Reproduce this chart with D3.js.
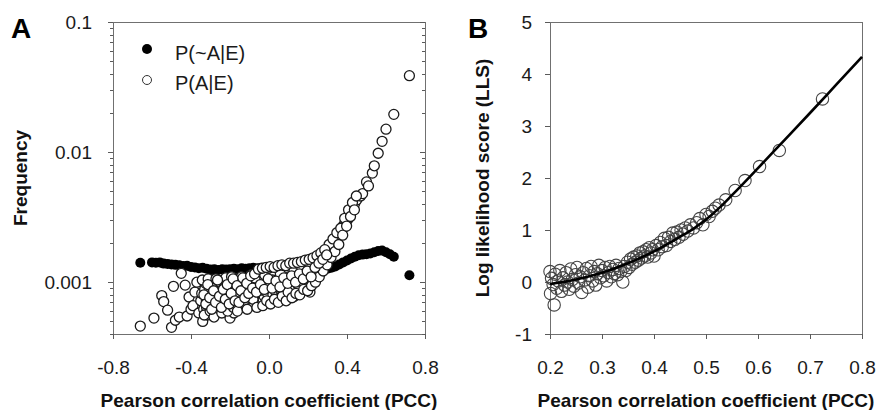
<!DOCTYPE html>
<html>
<head>
<meta charset="utf-8">
<script src="https://cdn.jsdelivr.net/npm/d3@7"></script>
<style>
  body { margin: 0; background: #fff; }
  svg { font-family: "Liberation Sans", Arial, sans-serif; }
  .axis path, .axis line { stroke: #5a5a5a; shape-rendering: crispEdges; }
  .axis text { fill: #1a1a1a; font-size: 19px; }
  .frame { fill: none; stroke: #707070; shape-rendering: crispEdges; }
  .title { font-size: 19px; font-weight: bold; fill: #111; }
  .panel { font-size: 28px; font-weight: bold; fill: #000; }
</style>
</head>
<body>
<div id="chart"></div>
<script>
// ---- Panel A: frequency vs PCC ----
const pccNotAE = [-0.66, -0.60, -0.58, -0.56, -0.54, -0.52, -0.50, -0.48, -0.46, -0.44, -0.42, -0.40,
  -0.38, -0.36, -0.34, -0.32, -0.30, -0.28, -0.26, -0.24, -0.22, -0.20, -0.18, -0.16, -0.14, -0.12,
  -0.10, -0.08, -0.06, -0.04, -0.02, 0.00, 0.02, 0.04, 0.06, 0.08, 0.10, 0.12, 0.14, 0.16, 0.18,
  0.20, 0.22, 0.24, 0.26, 0.28, 0.30, 0.32, 0.34, 0.36, 0.38, 0.40, 0.42, 0.44, 0.46, 0.48, 0.50,
  0.52, 0.54, 0.56, 0.58, 0.60, 0.62, 0.64, 0.72];
const freqNotAE = [1.41e-3, 1.42e-3, 1.41e-3, 1.42e-3, 1.39e-3, 1.38e-3, 1.37e-3, 1.36e-3, 1.35e-3, 1.33e-3, 1.34e-3, 1.31e-3,
  1.30e-3, 1.28e-3, 1.29e-3, 1.27e-3, 1.25e-3, 1.26e-3, 1.24e-3, 1.26e-3, 1.25e-3, 1.26e-3, 1.27e-3, 1.26e-3, 1.28e-3, 1.27e-3,
  1.28e-3, 1.29e-3, 1.28e-3, 1.29e-3, 1.30e-3, 1.29e-3, 1.28e-3, 1.29e-3, 1.28e-3, 1.27e-3, 1.28e-3, 1.27e-3, 1.26e-3, 1.27e-3, 1.26e-3,
  1.25e-3, 1.26e-3, 1.25e-3, 1.26e-3, 1.25e-3, 1.27e-3, 1.29e-3, 1.32e-3, 1.37e-3, 1.42e-3, 1.47e-3, 1.52e-3, 1.57e-3, 1.61e-3, 1.63e-3, 1.64e-3,
  1.66e-3, 1.70e-3, 1.74e-3, 1.75e-3, 1.70e-3, 1.64e-3, 1.57e-3, 1.13e-3];

const pccAE = [-0.66, -0.59, -0.55, -0.54, -0.52, -0.50, -0.49, -0.48, -0.46, -0.45, -0.43, -0.42, -0.41,
  -0.40, -0.39, -0.38, -0.37, -0.36, -0.35, -0.345, -0.34, -0.335, -0.33, -0.325, -0.32, -0.315, -0.31,
  -0.305, -0.30, -0.295, -0.29, -0.285, -0.28, -0.275, -0.27, -0.265, -0.26, -0.255, -0.25, -0.245,
  -0.24, -0.235, -0.23, -0.225, -0.22, -0.215, -0.21, -0.205, -0.20, -0.195, -0.19, -0.185, -0.18,
  -0.175, -0.17, -0.165, -0.16, -0.155, -0.15, -0.145, -0.14, -0.135, -0.13, -0.125, -0.12, -0.115,
  -0.11, -0.105, -0.10, -0.095, -0.09, -0.085, -0.08, -0.075, -0.07, -0.065, -0.06, -0.055, -0.05,
  -0.045, -0.04, -0.035, -0.03, -0.025, -0.02, -0.015, -0.01, -0.005, 0.00, 0.005, 0.01, 0.015, 0.02,
  0.025, 0.03, 0.035, 0.04, 0.045, 0.05, 0.055, 0.06, 0.065, 0.07, 0.075, 0.08, 0.085, 0.09, 0.095,
  0.10, 0.105, 0.11, 0.115, 0.12, 0.125, 0.13, 0.135, 0.14, 0.145, 0.15, 0.155, 0.16, 0.165, 0.17,
  0.175, 0.18, 0.185, 0.19, 0.195, 0.20, 0.205, 0.21, 0.215, 0.22, 0.225, 0.23, 0.235, 0.24, 0.245,
  0.25, 0.255, 0.26, 0.265, 0.27, 0.275, 0.28, 0.285, 0.29, 0.295, 0.30, 0.305, 0.31, 0.315, 0.32,
  0.325, 0.33, 0.335, 0.34, 0.345, 0.35, 0.355, 0.36, 0.365, 0.37, 0.375, 0.38, 0.385, 0.39, 0.395,
  0.40, 0.405, 0.41, 0.415, 0.42, 0.425, 0.43, 0.435, 0.44, 0.45, 0.47, 0.48, 0.50, 0.51, 0.53,
  0.54, 0.56, 0.58, 0.60, 0.64, 0.72];
const freqAE = [0.46e-3, 0.53e-3, 0.79e-3, 0.71e-3, 0.61e-3, 0.45e-3, 0.93e-3, 0.51e-3, 0.54e-3, 1.17e-3, 0.95e-3, 0.55e-3, 0.77e-3,
  0.62e-3, 0.66e-3, 0.84e-3, 1.00e-3, 0.58e-3, 0.72e-3, 0.82e-3, 0.50e-3, 0.62e-3, 0.88e-3, 0.98e-3, 0.64e-3, 0.56e-3, 0.79e-3,
  0.88e-3, 0.69e-3, 0.74e-3, 1.05e-3, 0.66e-3, 0.60e-3, 0.96e-3, 0.85e-3, 0.63e-3, 0.74e-3, 0.86e-3, 0.66e-3, 0.72e-3,
  0.95e-3, 1.04e-3, 0.78e-3, 0.68e-3, 0.62e-3, 0.80e-3, 1.02e-3, 0.62e-3, 0.53e-3, 0.98e-3, 0.86e-3, 0.74e-3, 0.58e-3,
  0.82e-3, 0.92e-3, 0.66e-3, 0.76e-3, 0.90e-3, 1.08e-3, 0.78e-3, 0.68e-3, 1.00e-3, 0.88e-3, 0.64e-3, 0.80e-3, 0.92e-3,
  0.72e-3, 0.76e-3, 1.05e-3, 0.70e-3, 0.84e-3, 0.98e-3, 0.66e-3, 0.82e-3, 0.96e-3, 0.72e-3, 0.78e-3, 0.90e-3, 1.16e-3,
  0.68e-3, 0.88e-3, 1.06e-3, 0.74e-3, 0.78e-3, 1.00e-3, 0.95e-3, 0.83e-3, 0.70e-3, 0.92e-3, 1.00e-3, 1.12e-3, 0.86e-3, 0.80e-3,
  1.18e-3, 0.97e-3, 0.84e-3, 0.72e-3, 0.94e-3, 1.05e-3, 0.76e-3, 0.88e-3, 0.90e-3, 1.25e-3, 1.02e-3, 0.80e-3, 0.92e-3, 0.98e-3, 1.20e-3,
  1.10e-3, 0.94e-3, 0.86e-3, 1.06e-3, 1.02e-3, 0.90e-3, 0.78e-3, 1.12e-3, 1.18e-3, 1.25e-3, 0.95e-3, 0.88e-3, 1.08e-3, 1.02e-3, 1.40e-3,
  1.15e-3, 0.98e-3, 1.30e-3, 1.15e-3, 1.06e-3, 1.28e-3, 1.20e-3, 0.84e-3, 1.42e-3, 1.22e-3, 1.12e-3, 1.35e-3, 1.26e-3, 1.18e-3, 1.50e-3,
  1.42e-3, 1.35e-3, 1.30e-3, 1.45e-3, 1.52e-3, 1.60e-3, 1.40e-3, 1.50e-3, 1.62e-3, 1.70e-3, 1.55e-3, 1.65e-3, 1.75e-3, 1.82e-3, 1.85e-3,
  1.78e-3, 1.95e-3, 2.00e-3, 2.10e-3, 1.95e-3, 2.20e-3, 2.25e-3, 2.35e-3, 2.30e-3, 2.50e-3, 2.60e-3, 2.70e-3, 2.65e-3, 2.90e-3, 3.00e-3,
  3.10e-3, 3.05e-3, 3.30e-3, 3.45e-3, 3.55e-3, 3.50e-3, 3.80e-3, 3.90e-3, 4.05e-3, 4.30e-3, 4.60e-3, 4.80e-3, 5.90e-3, 5.50e-3, 6.90e-3,
  7.85e-3, 9.80e-3, 12.1e-3, 15.0e-3, 19.5e-3, 38.7e-3];

// more P(A|E) bins in the dense middle of the cloud
const pccAE_more = [-0.342, -0.332, -0.322, -0.312, -0.302, -0.292, -0.282, -0.272, -0.262, -0.252,
  -0.242, -0.232, -0.222, -0.212, -0.202, -0.192, -0.182, -0.172, -0.162, -0.152, -0.142, -0.132,
  -0.122, -0.112, -0.102, -0.092, -0.082, -0.072, -0.062, -0.052, -0.042, -0.032, -0.022, -0.012,
  -0.002, 0.008, 0.018, 0.028, 0.038, 0.048, 0.058, 0.068, 0.078, 0.088, 0.098, 0.108, 0.118, 0.128,
  0.138, 0.148, 0.158, 0.168, 0.178, 0.188, 0.198, 0.208, 0.218, 0.228, 0.238, 0.248, 0.258, 0.268,
  0.278, 0.288, 0.298, 0.308, 0.318, 0.328, 0.338, 0.348, 0.358, 0.368, 0.378, 0.388, 0.398, 0.408,
  0.418, 0.428, 0.438, 0.448,
  -0.334, -0.324, -0.314, -0.304, -0.294, -0.284, -0.274, -0.264, -0.254, -0.244, -0.234, -0.224,
  -0.214, -0.204, -0.194, -0.184, -0.174, -0.164, -0.154, -0.144, -0.134, -0.124, -0.114, -0.104,
  -0.094, -0.084, -0.074, -0.064, -0.054, -0.044, -0.034, -0.024, -0.014, -0.004, 0.006, 0.016,
  0.026, 0.036, 0.046, 0.056, 0.066, 0.076, 0.086, 0.096, 0.106, 0.116, 0.126, 0.136, 0.146, 0.156,
  0.166, 0.176, 0.186, 0.196, 0.206, 0.216, 0.226, 0.236, 0.246, 0.256, 0.266, 0.276, 0.286, 0.296];
const freqAE_more = [1.04e-3, 0.56e-3, 0.74e-3, 1.06e-3, 0.60e-3, 0.92e-3, 0.54e-3, 1.06e-3, 0.70e-3, 1.00e-3,
  0.58e-3, 0.90e-3, 1.08e-3, 0.60e-3, 0.76e-3, 1.10e-3, 0.64e-3, 1.04e-3, 0.60e-3, 0.84e-3, 1.10e-3, 0.70e-3,
  1.04e-3, 0.62e-3, 0.94e-3, 1.14e-3, 0.74e-3, 1.08e-3, 0.64e-3, 0.86e-3, 1.20e-3, 0.66e-3, 1.14e-3, 0.72e-3,
  1.28e-3, 0.68e-3, 1.04e-3, 0.74e-3, 1.30e-3, 0.70e-3, 1.16e-3, 0.78e-3, 1.34e-3, 0.72e-3, 0.84e-3, 1.36e-3, 0.76e-3, 1.24e-3,
  0.82e-3, 1.40e-3, 0.80e-3, 1.30e-3, 0.88e-3, 1.44e-3, 0.86e-3, 1.36e-3, 0.94e-3, 1.50e-3, 1.00e-3, 1.56e-3, 1.10e-3, 1.64e-3,
  1.22e-3, 1.76e-3, 1.36e-3, 1.95e-3, 1.55e-3, 2.15e-3, 1.72e-3, 2.40e-3, 1.95e-3, 2.60e-3, 2.30e-3, 3.10e-3, 2.70e-3, 3.60e-3,
  3.20e-3, 4.10e-3, 3.60e-3, 4.60e-3,
  0.80e-3, 0.68e-3, 0.96e-3, 0.76e-3, 0.62e-3, 0.86e-3, 0.70e-3, 1.04e-3, 0.78e-3, 0.64e-3, 0.88e-3, 0.74e-3,
  0.96e-3, 0.68e-3, 0.82e-3, 1.06e-3, 0.72e-3, 0.94e-3, 0.70e-3, 0.86e-3, 1.08e-3, 0.76e-3, 0.98e-3, 0.82e-3,
  1.12e-3, 0.90e-3, 1.16e-3, 0.84e-3, 1.26e-3, 0.96e-3, 1.28e-3, 0.88e-3, 1.30e-3, 1.06e-3, 1.32e-3, 0.90e-3,
  1.30e-3, 1.02e-3, 1.34e-3, 0.92e-3, 1.36e-3, 1.08e-3, 1.34e-3, 0.98e-3, 1.40e-3, 1.12e-3, 1.40e-3, 1.00e-3, 1.42e-3, 1.16e-3,
  1.44e-3, 1.06e-3, 1.48e-3, 1.22e-3, 1.50e-3, 1.10e-3, 1.54e-3, 1.30e-3, 1.60e-3, 1.40e-3, 1.68e-3, 1.50e-3, 1.78e-3, 1.62e-3];

const ticksA_x = [-0.8, -0.4, 0.0, 0.4, 0.8];
const ticksA_y = [0.001, 0.01, 0.1];
const legendA = ["P(~A|E)", "P(A|E)"];

// ---- Panel B: log likelihood score vs PCC ----
const pccB = [0.200, 0.201, 0.203, 0.206, 0.208, 0.210, 0.213, 0.216, 0.219, 0.222, 0.225, 0.228, 0.231,
  0.234, 0.237, 0.240, 0.243, 0.246, 0.249, 0.252, 0.255, 0.258, 0.261, 0.264, 0.267, 0.270, 0.273,
  0.276, 0.279, 0.282, 0.285, 0.288, 0.291, 0.294, 0.297, 0.300, 0.303, 0.306, 0.309, 0.312, 0.315,
  0.318, 0.321, 0.324, 0.327, 0.330, 0.333, 0.336, 0.340, 0.343, 0.346, 0.349, 0.352, 0.355, 0.358,
  0.361, 0.364, 0.367, 0.370, 0.373, 0.376, 0.379, 0.382, 0.385, 0.388, 0.391, 0.394, 0.397, 0.400,
  0.404, 0.408, 0.412, 0.416, 0.420, 0.424, 0.428, 0.432, 0.436, 0.440, 0.444, 0.448, 0.452, 0.456,
  0.460, 0.465, 0.470, 0.476, 0.482, 0.488, 0.494, 0.500, 0.506, 0.512, 0.518, 0.525, 0.538, 0.556,
  0.575, 0.603, 0.641, 0.724];
const llsB = [0.20, -0.22, 0.07, -0.05, -0.44, 0.15, -0.12, 0.02, 0.22, -0.18, 0.08, -0.06, 0.18,
  0.00, -0.14, 0.25, 0.05, -0.08, 0.14, 0.28, -0.02, 0.10, -0.20, 0.18, 0.04, 0.26, -0.10,
  0.12, 0.30, 0.02, 0.20, -0.06, 0.16, 0.32, 0.08, 0.22, 0.12, 0.28, 0.02, 0.18, 0.30,
  0.10, 0.24, 0.16, 0.32, 0.14, 0.26, 0.20, 0.00, 0.30, 0.22, 0.38, 0.28, 0.44, 0.34,
  0.48, 0.38, 0.50, 0.42, 0.56, 0.46, 0.58, 0.50, 0.62, 0.48, 0.66, 0.56, 0.62, 0.50,
  0.70, 0.62, 0.76, 0.68, 0.84, 0.70, 0.86, 0.78, 0.94, 0.82, 0.96, 0.86, 1.00, 0.92,
  1.04, 0.98, 1.10, 1.04, 1.14, 1.22, 1.10, 1.30, 1.26, 1.36, 1.42, 1.48, 1.58, 1.76,
  1.95, 2.22, 2.53, 3.52];

// fitted curve
const fitX = [0.20, 0.25, 0.30, 0.35, 0.40, 0.45, 0.475, 0.50, 0.525, 0.55, 0.60, 0.65, 0.70, 0.75, 0.80];
const fitY = [-0.04, 0.05, 0.18, 0.36, 0.59, 0.87, 1.02, 1.20, 1.42, 1.67, 2.19, 2.72, 3.25, 3.79, 4.33];

const ticksB_x = [0.2, 0.3, 0.4, 0.5, 0.6, 0.7, 0.8];
const ticksB_y = [-1, 0, 1, 2, 3, 4, 5];

const width = 882, height = 410;
const boxA = {left: 113, right: 425, top: 22, bottom: 334};
const boxB = {left: 550, right: 862, top: 22, bottom: 334};
const xTitle = "Pearson correlation coefficient (PCC)";

const svg = d3.select("#chart").append("svg")
    .attr("width", width)
    .attr("height", height);

// ===== panel A =====
const xA = d3.scaleLinear().domain([-0.8, 0.8]).range([boxA.left, boxA.right]);
const yA = d3.scaleLog().domain([0.0004, 0.1]).range([boxA.bottom, boxA.top]);

const gA = svg.append("g");

gA.append("rect").attr("class", "frame")
    .attr("x", boxA.left + 0.5).attr("y", boxA.top + 0.5)
    .attr("width", boxA.right - boxA.left).attr("height", boxA.bottom - boxA.top);

// minor log ticks: everything that is not a power of ten
const minorA = yA.ticks().filter(d => Math.abs(Math.log10(d) - Math.round(Math.log10(d))) > 1e-6);

// left axis, major + minor
gA.append("g").attr("class", "axis")
    .attr("transform", `translate(${boxA.left},0)`)
    .call(d3.axisLeft(yA).tickValues(ticksA_y).tickSize(5).tickPadding(16).tickFormat(d => String(d)));
gA.append("g").attr("class", "axis")
    .attr("transform", `translate(${boxA.left},0)`)
    .call(d3.axisLeft(yA).tickValues(minorA).tickSize(3).tickFormat(""));
// right side ticks, pointing inwards
gA.append("g").attr("class", "axis")
    .attr("transform", `translate(${boxA.right},0)`)
    .call(d3.axisLeft(yA).tickValues(ticksA_y).tickSize(5).tickFormat(""));
gA.append("g").attr("class", "axis")
    .attr("transform", `translate(${boxA.right},0)`)
    .call(d3.axisLeft(yA).tickValues(minorA).tickSize(3).tickFormat(""));

gA.append("g").attr("class", "axis")
    .attr("transform", `translate(0,${boxA.bottom})`)
    .call(d3.axisBottom(xA).tickValues(ticksA_x).tickSize(5).tickPadding(22).tickFormat(d => d.toFixed(1)));

gA.selectAll(".axis .domain").remove();

// P(~A|E) filled
gA.selectAll(".notAE")
    .data(pccNotAE)
    .enter().append("circle")
    .attr("class", "notAE")
    .attr("cx", d => xA(d))
    .attr("cy", (d, i) => yA(freqNotAE[i]))
    .attr("r", 5)
    .attr("fill", "#000");

// P(A|E) open, white filled
const openA = pccAE.map((d, i) => [d, freqAE[i]])
    .concat(pccAE_more.map((d, i) => [d, freqAE_more[i]]));

gA.selectAll(".AE")
    .data(openA)
    .enter().append("circle")
    .attr("class", "AE")
    .attr("cx", d => xA(d[0]))
    .attr("cy", d => yA(d[1]))
    .attr("r", 5)
    .attr("fill", "#fff")
    .attr("stroke", "#1a1a1a")
    .attr("stroke-width", 1.3);

// legend
const legA = gA.append("g");
legA.append("circle").attr("cx", 147).attr("cy", 49).attr("r", 5).attr("fill", "#000");
legA.append("circle").attr("cx", 147).attr("cy", 80).attr("r", 4.5)
    .attr("fill", "#fff").attr("stroke", "#333");
legA.selectAll("text")
    .data(legendA)
    .enter().append("text")
    .attr("x", 175)
    .attr("y", (d, i) => 60 + i * 30)
    .attr("font-size", 20)
    .attr("fill", "#1a1a1a")
    .text(d => d);

gA.append("text").attr("class", "title")
    .attr("x", (boxA.left + boxA.right) / 2).attr("y", 407)
    .attr("text-anchor", "middle")
    .text(xTitle);
gA.append("text").attr("class", "title")
    .attr("transform", `translate(27, ${(boxA.top + boxA.bottom) / 2}) rotate(-90)`)
    .attr("text-anchor", "middle")
    .text("Frequency");
gA.append("text").attr("class", "panel")
    .attr("x", 11).attr("y", 38)
    .text("A");

// ===== panel B =====
const xB = d3.scaleLinear().domain([0.2, 0.8]).range([boxB.left, boxB.right]);
const yB = d3.scaleLinear().domain([-1, 5]).range([boxB.bottom, boxB.top]);

const gB = svg.append("g");

gB.append("rect").attr("class", "frame")
    .attr("x", boxB.left + 0.5).attr("y", boxB.top + 0.5)
    .attr("width", boxB.right - boxB.left).attr("height", boxB.bottom - boxB.top);

gB.append("g").attr("class", "axis")
    .attr("transform", `translate(${boxB.left},0)`)
    .call(d3.axisLeft(yB).tickValues(ticksB_y).tickSize(5).tickPadding(13).tickFormat(d => String(d)));
gB.append("g").attr("class", "axis")
    .attr("transform", `translate(0,${boxB.bottom})`)
    .call(d3.axisBottom(xB).tickValues(ticksB_x).tickSize(5).tickPadding(22).tickFormat(d => d.toFixed(1)));
gB.selectAll(".axis .domain").remove();

gB.selectAll(".lls")
    .data(pccB)
    .enter().append("circle")
    .attr("class", "lls")
    .attr("cx", d => xB(d))
    .attr("cy", (d, i) => yB(llsB[i]))
    .attr("r", 6.2)
    .attr("fill", "none")
    .attr("stroke", "#444")
    .attr("stroke-width", 1.1);

const fitLine = d3.line()
    .x(d => xB(d))
    .y((d, i) => yB(fitY[i]))
    .curve(d3.curveMonotoneX);

gB.append("path")
    .datum(fitX)
    .attr("d", fitLine)
    .attr("fill", "none")
    .attr("stroke", "#000")
    .attr("stroke-width", 2.6);

gB.append("text").attr("class", "title")
    .attr("x", (boxB.left + boxB.right) / 2).attr("y", 407)
    .attr("text-anchor", "middle")
    .text(xTitle);
gB.append("text").attr("class", "title")
    .attr("transform", `translate(489, ${(boxB.top + boxB.bottom) / 2}) rotate(-90)`)
    .attr("text-anchor", "middle")
    .text("Log likelihood score (LLS)");
gB.append("text").attr("class", "panel")
    .attr("x", 468).attr("y", 38)
    .text("B");
</script>
</body>
</html>
